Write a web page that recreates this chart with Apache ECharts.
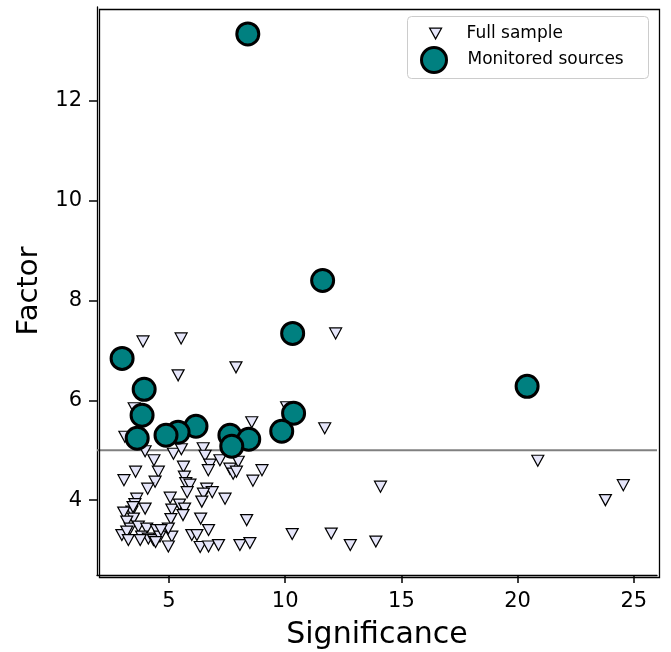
<!DOCTYPE html>
<html>
<head>
<meta charset="utf-8">
<script src="https://cdn.jsdelivr.net/npm/echarts@6/dist/echarts.min.js"></script>
<style>
html,body{margin:0;padding:0;background:#fff;}
#chart{width:671px;height:652px;}
</style>
</head>
<body>
<div id="chart"></div>
<script>
// ---- Data ----
var fullSampleSig = [
  3.88,5.52,12.17,7.88,5.39,10.06,3.5,3.1,8.56,11.7,
  3.97,4.35,5.19,5.53,6.47,6.55,6.76,6.69,7.19,7.62,7.76,7.98,7.9,9.0,8.61,
  3.56,4.54,3.06,4.4,4.08,
  5.62,5.66,5.72,5.9,5.78,6.62,6.86,6.48,6.41,7.41,
  5.05,3.61,3.53,3.97,3.4,3.05,3.47,3.18,3.45,
  5.12,5.45,5.67,5.6,5.08,6.36,8.34,6.7,5.98,6.2,5.12,
  3.33,3.68,4.04,4.46,4.97,2.97,3.18,3.82,4.11,3.25,3.76,4.33,4.61,4.97,4.65,4.42,
  6.34,6.7,7.13,8.05,8.48,10.3,
  20.87,14.1,24.55,23.78,11.98,12.8,13.9
];
var fullSampleFactor = [
  7.18,7.24,7.34,6.66,6.5,5.86,5.84,5.27,5.56,5.44,
  4.98,4.8,4.93,5.02,5.04,4.89,4.71,4.6,4.8,4.63,4.53,4.77,4.57,4.6,4.39,
  4.57,4.57,4.4,4.37,4.23,
  4.67,4.47,4.34,4.31,4.16,4.23,4.16,4.13,3.97,4.03,
  4.05,4.03,3.92,3.83,3.77,3.75,3.63,3.57,3.86,
  3.81,3.91,3.83,3.7,3.62,3.63,3.6,3.4,3.3,3.3,3.27,
  3.43,3.47,3.43,3.4,3.43,3.3,3.37,3.27,3.23,3.2,3.2,3.2,3.27,3.07,3.4,3.16,
  3.06,3.07,3.1,3.1,3.14,3.32,
  4.79,4.27,4.3,4.0,3.33,3.1,3.17
];
var monitoredSig = [8.39,11.61,10.32,2.98,3.93,20.41,3.84,10.36,9.85,6.16,5.39,4.87,3.63,7.62,8.43,7.70];
var monitoredFactor = [13.34,8.40,7.34,6.84,6.22,6.28,5.70,5.74,5.38,5.48,5.36,5.30,5.24,5.30,5.22,5.08];
var xTicks = [5,10,15,20,25];
var yTicks = [4,6,8,10,12];
var threshold = 5;
var xRange = [1.9, 26.0];
var yRange = [2.5, 13.88];

function zip(a,b){var r=[];for(var i=0;i<a.length;i++)r.push([a[i],b[i]]);return r;}

var FONT = 'DejaVu Sans';
var chart = echarts.init(document.getElementById('chart'), null, {renderer:'canvas'});
var downTri = 'path://M0,0 L10,0 L5,9 Z';

var option = {
  animation:false,
  backgroundColor:'#fff',
  grid:{left:97, top:7, width:560, height:568, containLabel:false, outerBoundsMode:'none'},
  xAxis:{
    type:'value', min:xRange[0], max:xRange[1],
    name:'Significance', nameLocation:'middle', nameGap:45,
    nameTextStyle:{fontFamily:FONT, fontSize:30, color:'#000'},
    axisLine:{show:true, onZero:false, lineStyle:{color:'#000', width:1.3}},
    axisTick:{show:true, length:8, customValues:xTicks, lineStyle:{color:'#000', width:1.5}},
    axisLabel:{customValues:xTicks, fontFamily:FONT, fontSize:21, color:'#000', margin:16},
    splitLine:{show:false}
  },
  yAxis:{
    type:'value', min:yRange[0], max:yRange[1],
    name:'Factor', nameLocation:'middle', nameGap:52,
    nameTextStyle:{fontFamily:FONT, fontSize:29, color:'#000'},
    axisLine:{show:true, onZero:false, lineStyle:{color:'#000', width:1.3}},
    axisTick:{show:true, length:8, customValues:yTicks, lineStyle:{color:'#000', width:1.5}},
    axisLabel:{customValues:yTicks, fontFamily:FONT, fontSize:21, color:'#000', margin:15},
    splitLine:{show:false}
  },
  legend:[
    {
      data:[{name:'Full sample', icon:downTri,
             itemStyle:{color:'#e6e6fa', borderColor:'#000', borderWidth:1.2}}],
      left:424, top:20, itemWidth:12, itemHeight:11, itemGap:0,
      textStyle:{fontFamily:FONT, fontSize:17, color:'#000', padding:[0,0,0,20]},
      selectedMode:false
    },
    {
      data:[{name:'Monitored sources', icon:'circle',
             itemStyle:{color:'#008080', borderColor:'#000', borderWidth:3}}],
      left:415, top:41, itemWidth:25, itemHeight:25,
      textStyle:{fontFamily:FONT, fontSize:17, color:'#000', padding:[0,0,0,16]},
      selectedMode:false
    }
  ],
  graphic:[
    {type:'rect', left:407, top:16, z:0,
     shape:{width:241, height:62, r:4},
     style:{fill:'rgba(255,255,255,0.8)', stroke:'#cccccc', lineWidth:1}},
    {type:'rect', left:97, top:7, z:10, silent:true,
     shape:{width:560, height:568},
     style:{fill:'none', stroke:'#000', lineWidth:1.3}}
  ],
  series:[
    {
      type:'line', name:'threshold', silent:true, z:1,
      symbol:'none', data:[[xRange[0],threshold],[xRange[1],threshold]],
      lineStyle:{color:'#808080', width:2}
    },
    {
      type:'scatter', name:'Full sample', z:2,
      symbol:'triangle', symbolRotate:180, symbolSize:[12,11],
      itemStyle:{color:'#e6e6fa', borderColor:'#000', borderWidth:1.2, opacity:1},
      data:zip(fullSampleSig, fullSampleFactor)
    },
    {
      type:'scatter', name:'Monitored sources', z:3,
      symbol:'circle', symbolSize:22,
      itemStyle:{color:'#008080', borderColor:'#000', borderWidth:3, opacity:1},
      data:zip(monitoredSig, monitoredFactor)
    }
  ]
};
chart.setOption(option);
</script>
</body>
</html>
